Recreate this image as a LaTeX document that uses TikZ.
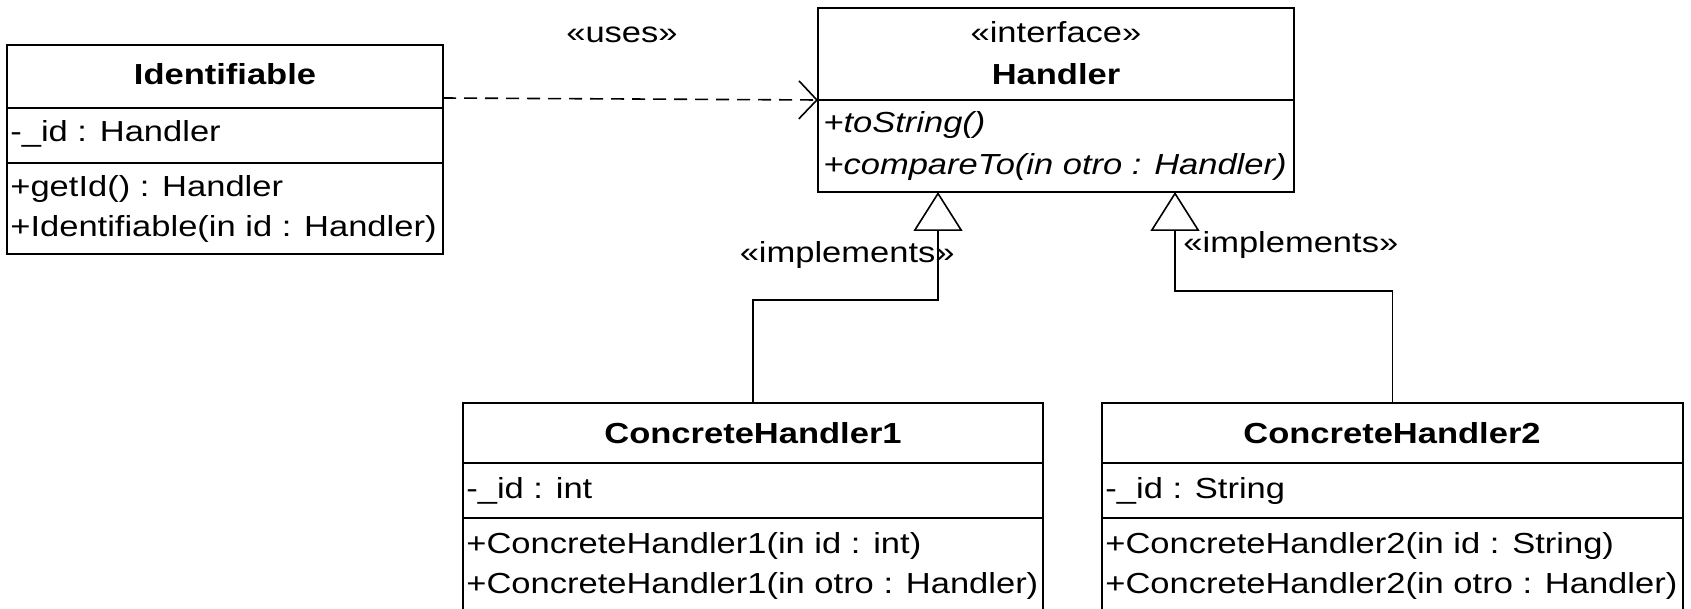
\documentclass[tikz,border=0pt]{standalone}
\usepackage{fontspec}
\setmainfont{Liberation Sans}[FakeStretch=1.19]
\usetikzlibrary{arrows.meta,fit}
\begin{document}
\begin{tikzpicture}[x=0.5pt,y=-0.5pt,
  box/.style={draw,line width=1pt,inner sep=0pt},
  sepline/.style={line width=1pt},
  txt/.style={inner sep=0pt,anchor=base west,font=\fontsize{14.5}{17}\selectfont},
  itxt/.style={inner sep=0pt,anchor=base west,font=\fontsize{14.5}{17}\selectfont\itshape},
  ttl/.style={inner sep=0pt,anchor=base,font=\fontsize{14.5}{17}\selectfont\bfseries},
  lbl/.style={inner sep=0pt,anchor=base,font=\fontsize{14.5}{17}\selectfont},
  usesline/.style={line width=0.8pt,dash pattern=on 6.5pt off 4pt,-{Straight Barb[length=9pt,width=19pt,line width=0.8pt]}},
  impl/.style={line width=0.8pt,-{Triangle[open,length=19.5pt,width=24.5pt,line width=0.8pt]}}]
\useasboundingbox (0,0) rectangle (1691,609);
% Identifiable
\node[box,fit={(7,45)(443,254)}] (ident) {};
\draw[sepline] (7,108) -- (443,108);
\draw[sepline] (7,163) -- (443,163);
\node[ttl] (identT) at (225,85) {Identifiable};
\node[txt] (identA) at (10,142) {-\_id : Handler};
\node[txt] (identO1) at (10,197) {+getId() : Handler};
\node[txt] (identO2) at (10,237) {+Identifiable(in id : Handler)};
% Handler
\node[box,fit={(818,8)(1294,192)}] (handler) {};
\draw[sepline] (818,100) -- (1294,100);
\node[lbl] (handlerS) at (1056,43) {«interface»};
\node[ttl] (handlerT) at (1056,85) {Handler};
\node[itxt] (handlerO1) at (823,133) {+toString()};
\node[itxt] (handlerO2) at (823,175) {+compareTo(in otro : Handler)};
% ConcreteHandler1
\node[box,fit={(463,403)(1043,620)}] (ch1) {};
\draw[sepline] (463,463) -- (1043,463);
\draw[sepline] (463,518) -- (1043,518);
\node[ttl] (ch1T) at (753,443) {ConcreteHandler1};
\node[txt] (ch1A) at (466,498) {-\_id : int};
\node[txt] (ch1O1) at (466,553) {+ConcreteHandler1(in id : int)};
\node[txt] (ch1O2) at (466,593) {+ConcreteHandler1(in otro : Handler)};
% ConcreteHandler2
\node[box,fit={(1102,403)(1683,620)}] (ch2) {};
\draw[sepline] (1102,463) -- (1683,463);
\draw[sepline] (1102,518) -- (1683,518);
\node[ttl] (ch2T) at (1392,443) {ConcreteHandler2};
\node[txt] (ch2A) at (1105,498) {-\_id : String};
\node[txt] (ch2O1) at (1105,553) {+ConcreteHandler2(in id : String)};
\node[txt] (ch2O2) at (1105,593) {+ConcreteHandler2(in otro : Handler)};
% connectors
\coordinate (usesA) at (443,98);
\coordinate (usesB) at (818,100);
\draw[usesline] (usesA) -- (usesB);
\node[lbl] (usesL) at (622,43) {«uses»};
\coordinate (h1) at (938,192);
\coordinate (h2) at (1175,192);
\draw[impl] (ch1.north) -- ++(0,-102) -| (h1);
\draw[impl] (ch2.north) -- ++(0,-111) -| (h2);
\node[lbl,anchor=base east] (impl1L) at (955,263) {«implements»};
\node[lbl,anchor=base west] (impl2L) at (1183,253) {«implements»};
\end{tikzpicture}
\end{document}
